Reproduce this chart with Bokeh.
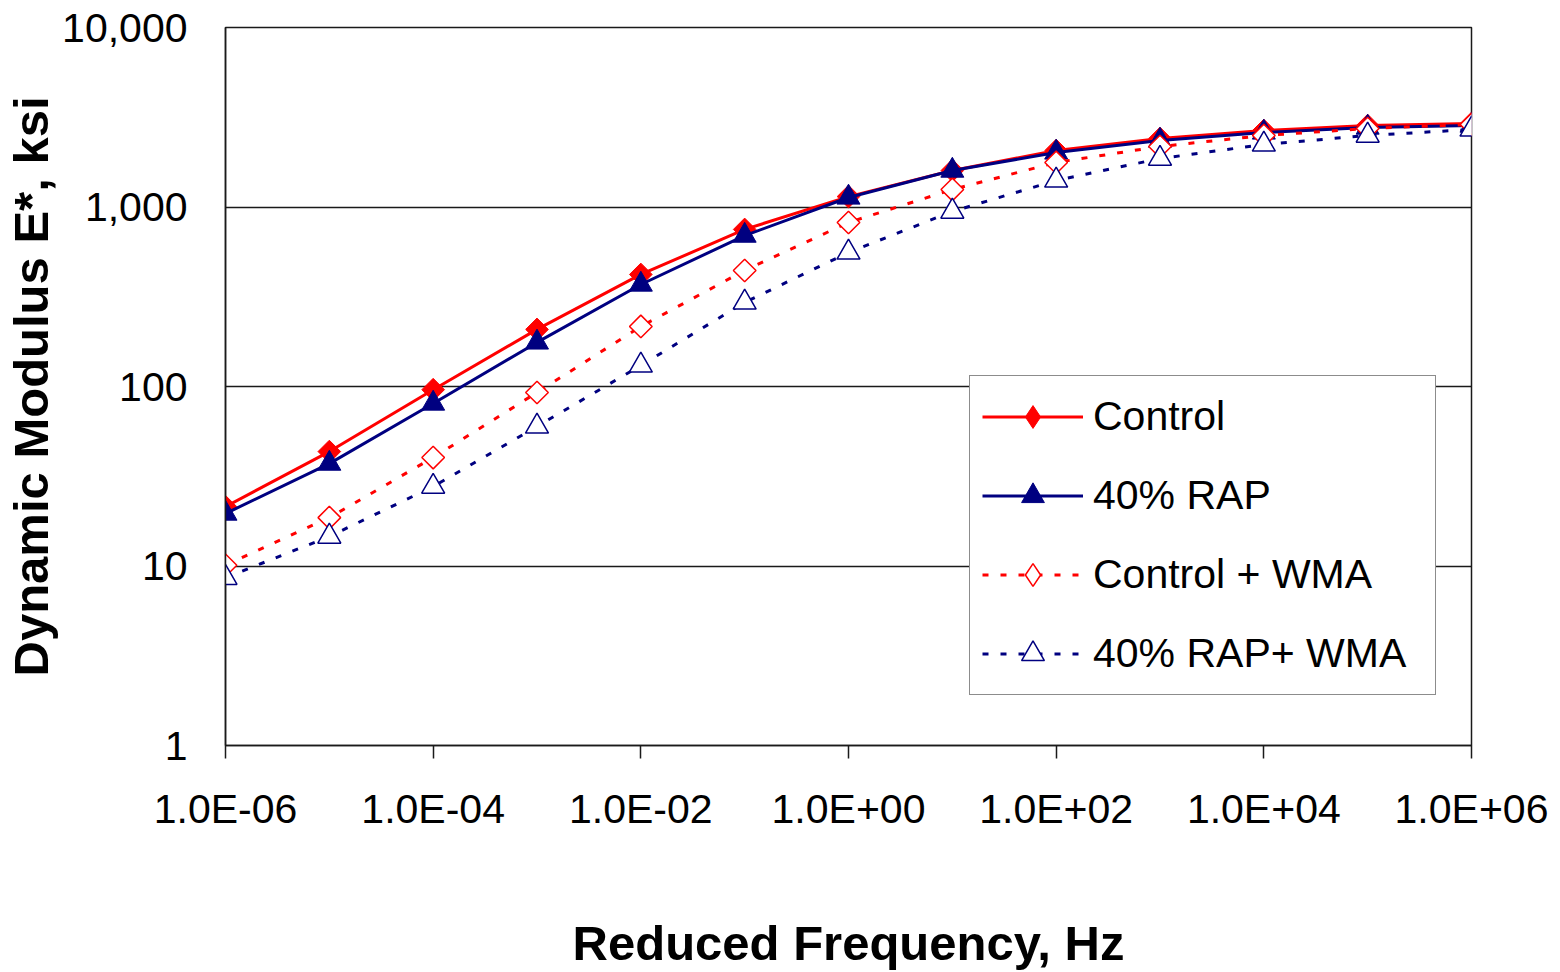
import math
from bokeh.plotting import figure
from bokeh.models import Range1d, FixedTicker, CustomJSTickFormatter, Legend, LegendItem
from bokeh.embed import file_html
from bokeh.resources import INLINE

# ---- data ----
freq = [1e-6, 1e-5, 1e-4, 1e-3, 1e-2, 1e-1, 1e0, 1e1, 1e2, 1e3, 1e4, 1e5, 1e6]
control = [21.4, 43.4, 96, 208, 421, 750, 1143, 1596, 2064, 2408, 2668, 2843, 2917]
rap40 = [19.6, 37.2, 80.4, 176, 370, 693, 1130, 1596, 2013, 2345, 2601, 2773, 2843]
control_wma = [10.1, 18.6, 40.2, 92.6, 216, 443, 820, 1251, 1771, 2173, 2502, 2738, 2884]
rap40_wma = [8.6, 14.6, 27.7, 59.9, 131, 294, 558, 944, 1406, 1862, 2230, 2502, 2703]

series_names = ["Control", "40% RAP", "Control + WMA", "40% RAP+ WMA"]

x_ticks = [1e-6, 1e-4, 1e-2, 1e0, 1e2, 1e4, 1e6]
x_tick_labels = ["1.0E-06", "1.0E-04", "1.0E-02", "1.0E+00", "1.0E+02", "1.0E+04", "1.0E+06"]
y_ticks = [1, 10, 100, 1000, 10000]
y_tick_labels = ["1", "10", "100", "1,000", "10,000"]

RED = "#FF0000"
NAVY = "#000080"
FONT = "Liberation Sans"
DARK = "#1a1a1a"

p = figure(
    frame_width=1246, frame_height=718,
    min_border_left=225, min_border_right=89, min_border_top=27, min_border_bottom=227,
    x_axis_type="log", y_axis_type="log",
    x_range=Range1d(1e-6, 1e6), y_range=Range1d(1, 10000),
    output_backend="svg", toolbar_location=None,
)
p.background_fill_color = "white"
p.border_fill_color = "white"
p.outline_line_color = DARK
p.outline_line_width = 1.5

fmt_code = """
for (let i = 0; i < vals.length; i++) {
  if (Math.abs(Math.log10(tick) - Math.log10(vals[i])) < 1e-6) { return labs[i]; }
}
return "";
"""

xa = p.xaxis[0]
xa.ticker = FixedTicker(ticks=x_ticks, minor_ticks=[])
xa.formatter = CustomJSTickFormatter(args=dict(vals=x_ticks, labs=x_tick_labels), code=fmt_code)
xa.major_tick_out = 13
xa.major_tick_in = 0
xa.minor_tick_out = 0
xa.minor_tick_in = 0
xa.major_tick_line_color = DARK
xa.major_tick_line_width = 1.5
xa.axis_line_color = DARK
xa.axis_line_width = 1.5
xa.major_label_text_font = FONT
xa.major_label_text_font_size = "41px"
xa.major_label_text_color = "black"
xa.major_label_standoff = 27
xa.axis_label = "Reduced Frequency, Hz"
xa.axis_label_text_font = FONT
xa.axis_label_text_font_size = "49px"
xa.axis_label_text_font_style = "bold"
xa.axis_label_text_color = "black"
xa.axis_label_standoff = 81

ya = p.yaxis[0]
ya.ticker = FixedTicker(ticks=y_ticks, minor_ticks=[])
ya.formatter = CustomJSTickFormatter(args=dict(vals=y_ticks, labs=y_tick_labels), code=fmt_code)
ya.major_tick_out = 0
ya.major_tick_in = 0
ya.minor_tick_out = 0
ya.minor_tick_in = 0
ya.axis_line_color = DARK
ya.axis_line_width = 1.5
ya.major_label_text_font = FONT
ya.major_label_text_font_size = "41px"
ya.major_label_text_color = "black"
ya.major_label_standoff = 38
ya.axis_label = "Dynamic Modulus E*, ksi"
ya.axis_label_text_font = FONT
ya.axis_label_text_font_size = "49px"
ya.axis_label_text_font_style = "bold"
ya.axis_label_text_color = "black"
ya.axis_label_standoff = 1

p.xgrid.visible = False
p.ygrid.grid_line_color = DARK
p.ygrid.grid_line_width = 1.5

# Control
l1 = p.line(freq, control, line_color=RED, line_width=3)
m1 = p.scatter(freq, control, marker="square", angle=math.pi / 4, size=16,
               fill_color=RED, line_color=RED, line_width=1)
# 40% RAP
l2 = p.line(freq, rap40, line_color=NAVY, line_width=3)
m2 = p.scatter(freq, rap40, marker="triangle", size=23,
               fill_color=NAVY, line_color=NAVY, line_width=1)
# Control + WMA
l3 = p.line(freq, control_wma, line_color=RED, line_width=3, line_dash="6 12")
m3 = p.scatter(freq, control_wma, marker="square", angle=math.pi / 4, size=16,
               fill_color="white", line_color=RED, line_width=1.5)
# 40% RAP + WMA
l4 = p.line(freq, rap40_wma, line_color=NAVY, line_width=3, line_dash="6 12")
m4 = p.scatter(freq, rap40_wma, marker="triangle", size=23,
               fill_color="white", line_color=NAVY, line_width=1.5)

# legend-only diamond glyphs (legend does not honour marker angle)
k1 = p.scatter(freq, control, marker="diamond", size=23,
               fill_color=RED, line_color=RED, line_width=1, visible=False)
k3 = p.scatter(freq, control_wma, marker="diamond", size=23,
               fill_color="white", line_color=RED, line_width=1.5, visible=False)

legend = Legend(
    items=[
        LegendItem(label=series_names[0], renderers=[l1, k1]),
        LegendItem(label=series_names[1], renderers=[l2, m2]),
        LegendItem(label=series_names[2], renderers=[l3, k3]),
        LegendItem(label=series_names[3], renderers=[l4, m4]),
    ],
    location=(744, 50),
    orientation="vertical",
    click_policy="none",
)
legend.label_text_font = FONT
legend.label_text_font_size = "41px"
legend.label_text_color = "black"
legend.label_standoff = 10
legend.glyph_width = 101
legend.glyph_height = 57
legend.label_height = 57
legend.label_width = 330
legend.spacing = 22
legend.padding = 12
legend.margin = 0
legend.border_line_color = DARK
legend.border_line_width = 1.5
legend.background_fill_color = "white"
legend.background_fill_alpha = 1.0
p.add_layout(legend)

open("out.html", "w").write(file_html(p, INLINE))
